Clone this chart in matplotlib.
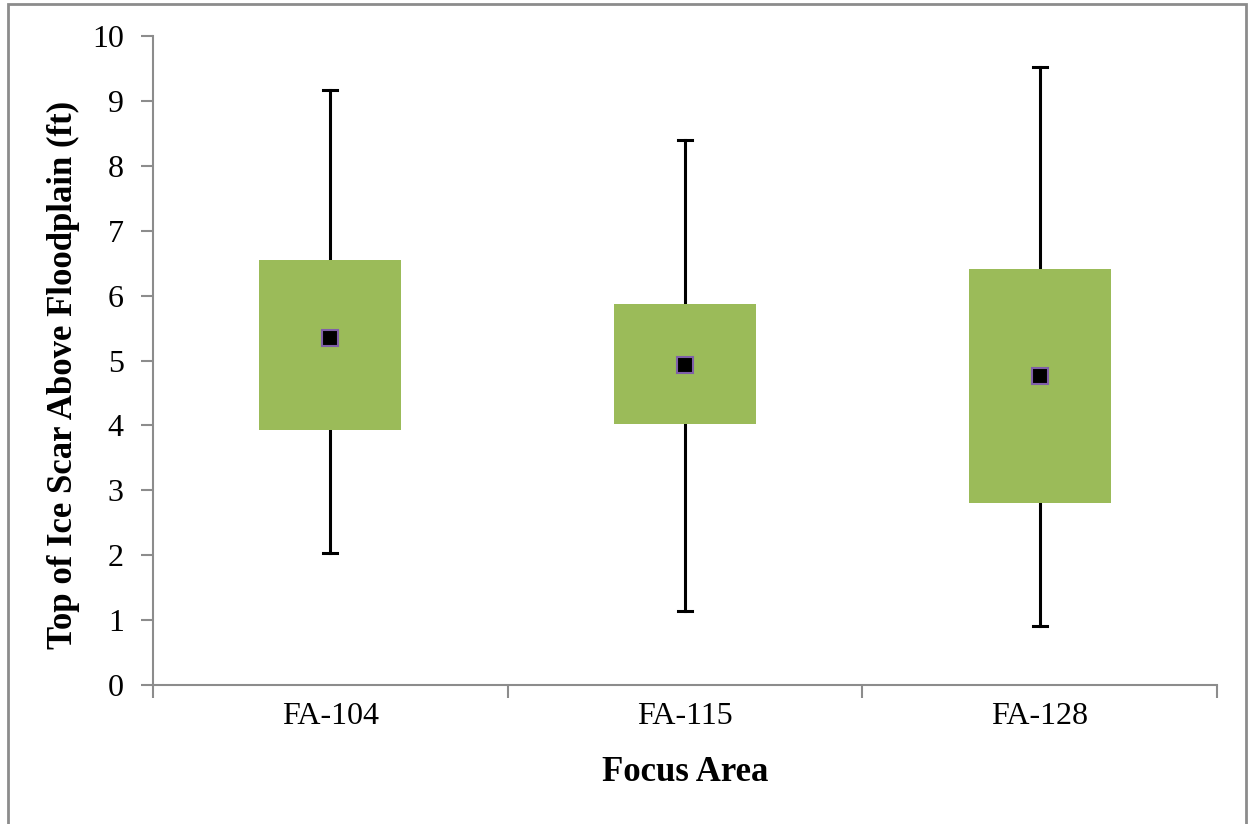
import matplotlib
matplotlib.use("Agg")
import matplotlib.pyplot as plt
from matplotlib.patches import Rectangle

categories = ["FA-104", "FA-115", "FA-128"]
whisker_low = [2.03, 1.14, 0.91]
box_low = [3.93, 4.02, 2.80]
mean_val = [5.35, 4.93, 4.76]
box_high = [6.55, 5.87, 6.41]
whisker_high = [9.17, 8.40, 9.52]
y_ticks = list(range(0, 11))

plt.rcParams['font.family'] = ['Liberation Serif', 'DejaVu Serif']

fig = plt.figure(figsize=(12.49, 8.24), dpi=100)
fig.patch.set_facecolor('white')
fig.add_artist(Rectangle((8/1249, -0.01), (1246-8)/1249, 1 - 4/824 + 0.01,
                         transform=fig.transFigure, fill=False,
                         edgecolor='#8c8c8c', linewidth=2))
ax = fig.add_axes([153/1249, 1 - 685/824, (1217-153)/1249, (685-36)/824])

green = '#9bbb59'
box_w = 0.4
cap_w = 0.02
for i in range(len(categories)):
    ax.plot([i, i], [whisker_low[i], box_low[i]], color='black', lw=2.2, zorder=2)
    ax.plot([i, i], [box_high[i], whisker_high[i]], color='black', lw=2.2, zorder=2)
    ax.plot([i - cap_w, i + cap_w], [whisker_low[i]] * 2, color='black', lw=2.2, zorder=2)
    ax.plot([i - cap_w, i + cap_w], [whisker_high[i]] * 2, color='black', lw=2.2, zorder=2)
    ax.add_patch(Rectangle((i - box_w / 2, box_low[i]), box_w, box_high[i] - box_low[i],
                           facecolor=green, edgecolor='none', zorder=3))
ax.plot(range(len(categories)), mean_val, linestyle='none', marker='s', markersize=12,
        markerfacecolor='black', markeredgecolor='#7f5fa8', markeredgewidth=1.5, zorder=4)

ax.set_xlim(-0.5, len(categories) - 0.5)
ax.set_ylim(0, 10)
ax.set_yticks(y_ticks)
ax.set_yticklabels([str(t) for t in y_ticks], fontsize=23)
ax.set_xticks([-0.5, 0.5, 1.5, 2.5])
ax.set_xticklabels([])
ax.set_xticks(range(len(categories)), minor=True)
ax.set_xticklabels(categories, minor=True, fontsize=23)
ax.tick_params(axis='x', which='minor', length=0, pad=12)
ax.tick_params(axis='x', which='major', length=9, color='#8c8c8c', width=1.5, direction='out')
ax.tick_params(axis='y', length=9, color='#8c8c8c', width=1.5, direction='out', pad=12)

for s in ['top', 'right']:
    ax.spines[s].set_visible(False)
for s in ['left', 'bottom']:
    ax.spines[s].set_color('#8c8c8c')
    ax.spines[s].set_linewidth(1.5)

ax.set_ylabel('Top of Ice Scar Above Floodplain (ft)', fontsize=25, fontweight='bold')
ax.yaxis.set_label_coords(-0.069, 0.477)
ax.set_xlabel('Focus Area', fontsize=25, fontweight='bold', labelpad=18)

fig.savefig('out.png', dpi=100)
